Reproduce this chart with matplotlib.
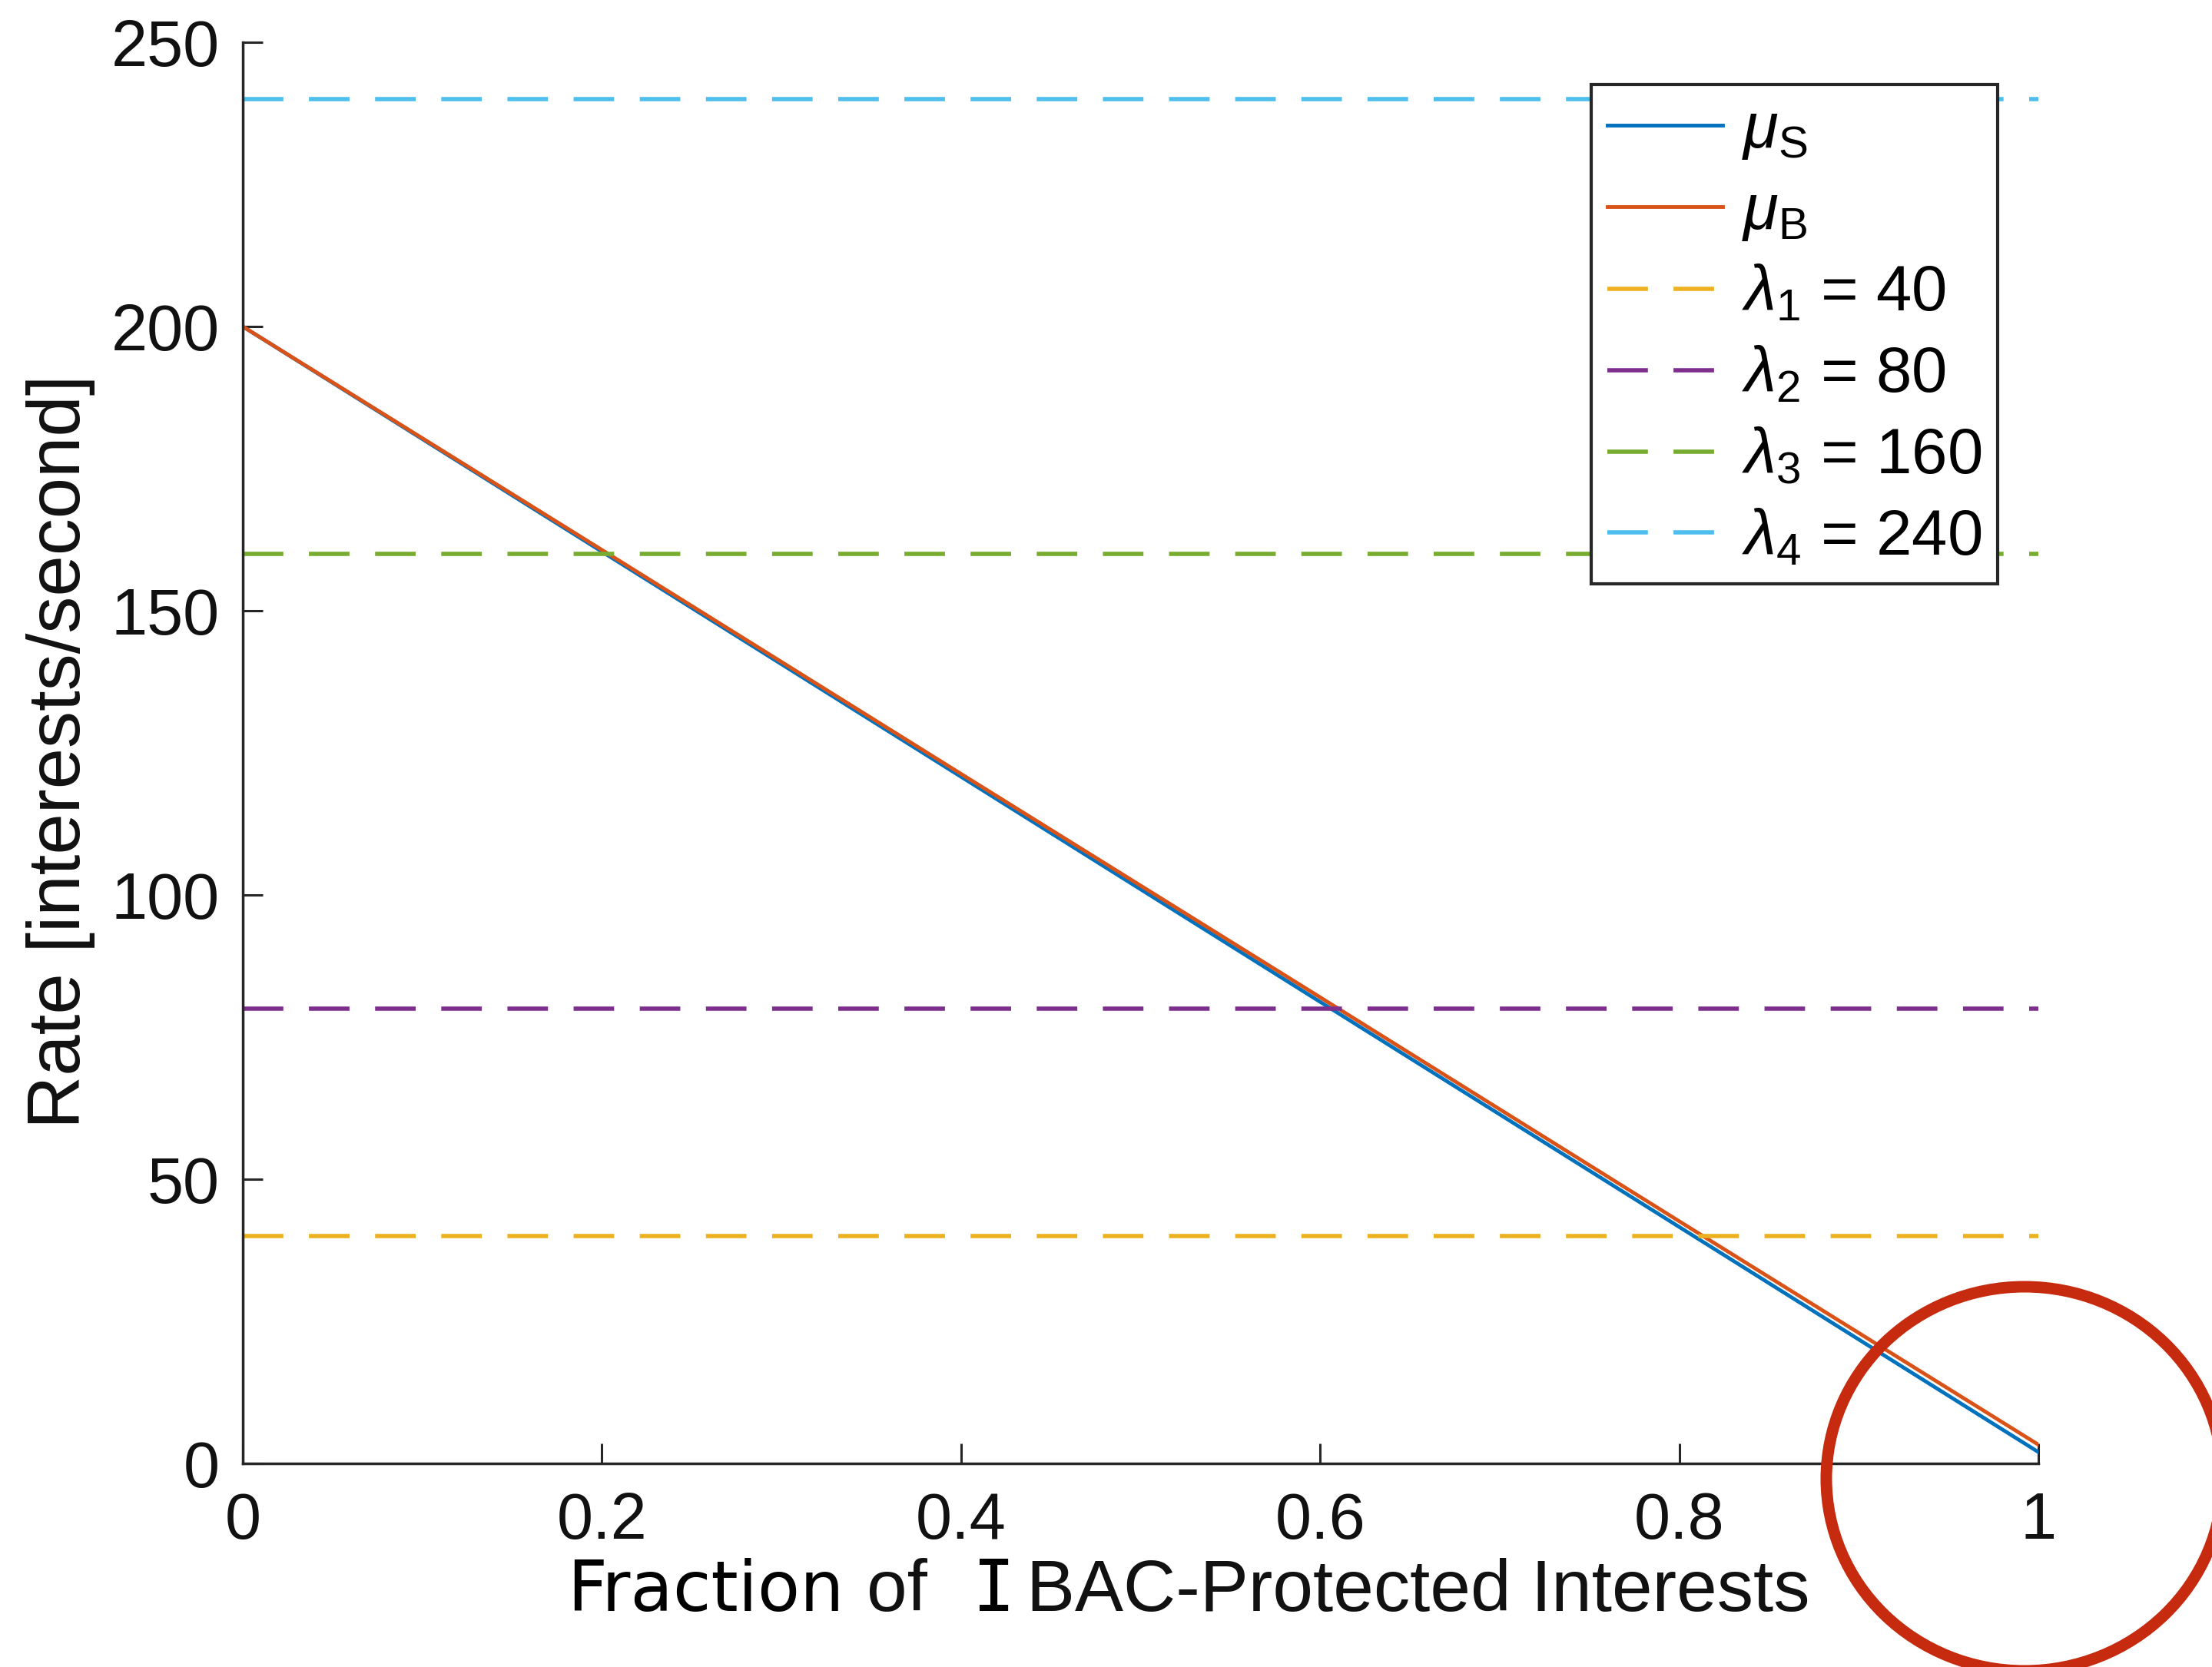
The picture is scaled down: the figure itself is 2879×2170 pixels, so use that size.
# Service rates vs fraction of IBAC-protected interests

import numpy as np
import matplotlib.pyplot as plt
from matplotlib.patches import Ellipse

plt.rcParams['font.family'] = ['Liberation Sans', 'DejaVu Sans']
plt.rcParams['mathtext.fontset'] = 'custom'
plt.rcParams['mathtext.rm'] = 'Liberation Sans'
plt.rcParams['mathtext.it'] = 'Liberation Sans:italic'

# Data
frac = [0.0, 0.2, 0.4, 0.6, 0.8, 1.0]
mu_s = [200, 160.4, 120.8, 81.2, 41.6, 2.0]
mu_b = [200, 160.7, 121.3, 82.0, 42.6, 3.3]
lambdas = [40, 80, 160, 240]
lambda_labels = [r'$\lambda_1$ = 40', r'$\lambda_2$ = 80', r'$\lambda_3$ = 160', r'$\lambda_4$ = 240']
x_ticks = [0, 0.2, 0.4, 0.6, 0.8, 1]
x_tick_labels = ['0', '0.2', '0.4', '0.6', '0.8', '1']
y_ticks = [0, 50, 100, 150, 200, 250]

blue = '#0072BD'
orange = '#D95319'
lam_colors = ['#EDB120', '#7E2F8E', '#77AC30', '#4DBEEE']
axcol = '#262626'

fig = plt.figure(figsize=(28.79, 21.70), dpi=100)
ax = fig.add_axes([0.10976, 0.12212, 0.81174, 0.85253])

ax.plot(frac, mu_s, color=blue, lw=3.5, label=r'$\mu_{\rm S}$')
ax.plot(frac, mu_b, color=orange, lw=3.5, label=r'$\mu_{\rm B}$')
for lam, c, lab in zip(lambdas, lam_colors, lambda_labels):
    ax.plot([0, 1], [lam, lam], color=c, lw=4, dashes=(9.5, 6), label=lab)

ax.set_xlim(0, 1)
ax.set_ylim(0, 250)
ax.set_xticks(x_ticks)
ax.set_xticklabels(x_tick_labels)
ax.set_yticks(y_ticks)

for s in ['top', 'right']:
    ax.spines[s].set_visible(False)
for s in ['left', 'bottom']:
    ax.spines[s].set_color(axcol)
    ax.spines[s].set_linewidth(2.5)

ax.tick_params(direction='in', length=19, width=2.2, colors=axcol,
               labelsize=61, labelcolor='#111111')
ax.tick_params(axis='y', pad=22)
ax.tick_params(axis='x', pad=26)

ax.set_ylabel('Rate [interests/second]', fontsize=69, color='#111111',
              va='center')
ax.yaxis.set_label_coords(-0.1014, 0.501)

# x label, pieced together as in the original
yb = 1 - 2097 / 2170
fig.text(738 / 2879, yb, 'Fraction', fontsize=65, family=['DejaVu Sans'],
         va='baseline', ha='left')
fig.text(1128 / 2879, yb, 'of', fontsize=68, va='baseline', ha='left', color='#111111')
fig.text(1266 / 2879, yb, 'I', fontsize=66, family=['DejaVu Sans Mono'],
         va='baseline', ha='left')
fig.text(2356 / 2879, yb, 'BAC-Protected Interests', fontsize=68, va='baseline',
         ha='right', color='#111111')

leg = ax.legend(loc='upper right', bbox_to_anchor=(0.9773, 0.9703), borderaxespad=0,
                fontsize=60, handlelength=1.8, handletextpad=0.3, borderpad=0.25,
                labelspacing=0.33, fancybox=False, framealpha=1, edgecolor=axcol)
leg.get_frame().set_linewidth(3)

# red circle annotation around x = 1
fig.add_artist(Ellipse((2635 / 2879, 1 - 1925 / 2170), 2 * 258 / 2879, 2 * 250 / 2170,
                       transform=fig.transFigure, fill=False, color='#C62A0F', lw=10.8))

fig.savefig('out.png', dpi=100)
